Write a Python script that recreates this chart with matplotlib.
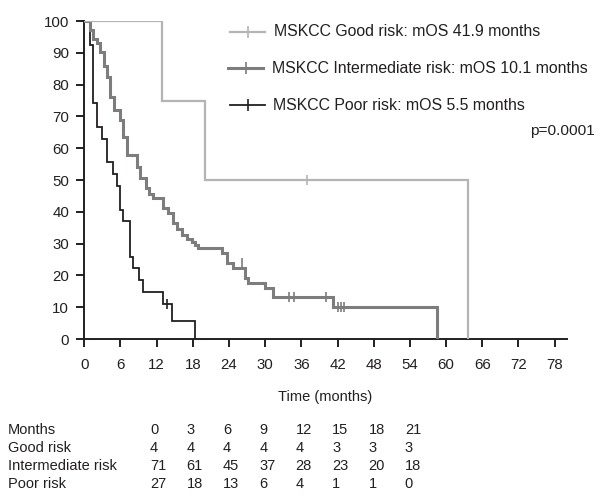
import numpy as np
import matplotlib
matplotlib.use("Agg")
import matplotlib.pyplot as plt
from matplotlib.lines import Line2D

plt.rcParams['font.family'] = ['Liberation Sans', 'DejaVu Sans']

# Kaplan-Meier steps: time of each drop (months) and survival (%) after it
good_t = [0, 12.9, 20.0, 63.7]
good_s = [100, 75, 50, 0]
good_cens_t = [37.0]
good_cens_s = [50]

inter_t = [0, 1.0, 1.5, 2.1, 2.6, 3.2, 3.7, 4.3, 5.0, 5.9, 6.5, 7.0, 8.7, 9.2,
           10.3, 10.8, 11.4, 13.1, 13.9, 14.7, 15.4, 16.2, 17.0, 17.8, 18.4,
           18.9, 22.8, 23.6, 24.7, 26.7, 27.2, 30.0, 31.3, 32.2, 41.2, 58.5]
inter_s = [100, 97.2, 94.4, 93.0, 90.1, 85.9, 82.4, 76.2, 72.0, 68.9, 63.4,
           58.0, 54.0, 50.5, 47.4, 45.5, 44.3, 41.1, 39.5, 36.4, 34.5, 32.7,
           31.6, 30.6, 29.6, 28.5, 26.9, 23.8, 22.2, 19.1, 17.5, 15.9, 13.3,
           13.3, 10.2, 0]
inter_cens_t = [26.1, 34.0, 34.8, 40.0, 42.0, 42.5, 43.0]
inter_cens_s = [23.8, 13.3, 13.3, 13.3, 10.2, 10.2, 10.2]

poor_t = [0, 1.0, 1.5, 2.1, 2.9, 3.7, 4.8, 5.4, 5.9, 6.5, 7.6, 8.1, 9.0, 9.8,
          13.1, 14.5, 18.4]
poor_s = [100, 92.6, 74.1, 66.7, 63.0, 55.6, 51.9, 48.1, 40.7, 37.0, 25.9,
          22.2, 18.5, 14.8, 11.1, 5.6, 0]
poor_cens_t = [13.7]
poor_cens_s = [11.1]

labels = ["MSKCC Good risk: mOS 41.9 months",
          "MSKCC Intermediate risk: mOS 10.1 months",
          "MSKCC Poor risk: mOS 5.5 months"]

table_months = [0, 3, 6, 9, 12, 15, 18, 21]
table_rows = ["Good risk", "Intermediate risk", "Poor risk"]
at_risk = [[4, 4, 4, 4, 4, 3, 3, 3],
           [71, 61, 45, 37, 28, 23, 20, 18],
           [27, 18, 13, 6, 4, 1, 1, 0]]

colors = ["#b4b4b4", "#7d7d7d", "#231f20"]
widths = [1.6, 2.2, 1.3]
ink = '#231f20'

W, H = 598, 498
fig = plt.figure(figsize=(W / 100, H / 100), dpi=100)
ax = fig.add_axes([84.3 / W, 1 - 339 / H, (566.7 - 84.3) / W, (339 - 21) / H])

groups = [(good_t, good_s, good_cens_t, good_cens_s),
          (inter_t, inter_s, inter_cens_t, inter_cens_s),
          (poor_t, poor_s, poor_cens_t, poor_cens_s)]

for i, (t, s, ct, cs) in enumerate(groups):
    ax.step(t, s, where='post', color=colors[i], lw=widths[i], zorder=3 - i * 0.1,
            solid_joinstyle='miter')
    ax.plot(ct, cs, ls='none', marker='|', ms=7, mew=1.2, color=colors[i])

ax.set_xlim(0, 80)
ax.set_ylim(0, 100)
ax.set_xticks(np.arange(0, 79, 6))
ax.set_yticks(np.arange(0, 101, 10))
for sp in ['top', 'right']:
    ax.spines[sp].set_visible(False)
for sp in ['left', 'bottom']:
    ax.spines[sp].set_linewidth(1.4)
    ax.spines[sp].set_color(ink)
ax.tick_params(direction='out', length=6, width=1.4, color=ink,
               labelsize=10.8, labelcolor=ink)
ax.tick_params(axis='x', pad=8)
ax.tick_params(axis='y', pad=5)

# legend drawn by hand: each entry sits slightly differently in the original
leg_y = [31.7, 68.5, 105]
leg_line = [(230, 265), (228, 263), (230, 265)]
leg_text_x = [274, 271.5, 273]
for i in range(3):
    y = 1 - leg_y[i] / H
    x0, x1 = leg_line[i]
    fig.add_artist(Line2D([x0 / W, x1 / W], [y, y], color=colors[i], lw=widths[i]))
    fig.add_artist(Line2D([(x0 + x1) / 2 / W], [y], ls='none', marker='|', ms=8,
                          mew=1.2, color=colors[i]))
    fig.text(leg_text_x[i] / W, y, labels[i], ha='left', va='center',
             fontsize=11.4, color=ink)

fig.text(595 / W, 1 - 131.5 / H, "p=0.0001", ha='right', va='center',
         fontsize=11.1, color=ink)

fig.text(325 / W, 1 - 397 / H, "Time (months)", ha='center', va='center',
         fontsize=10.5, color=ink)

row_y = [430, 448, 466, 484]
col_x = [150 + 36.4 * k for k in range(len(table_months))]
fig.text(8 / W, 1 - row_y[0] / H, "Months", ha='left', va='center',
         fontsize=10.5, color=ink)
for k, m in enumerate(table_months):
    fig.text(col_x[k] / W, 1 - row_y[0] / H, str(m), ha='left', va='center',
             fontsize=10.5, color=ink)
for r, name in enumerate(table_rows):
    y = 1 - row_y[r + 1] / H
    fig.text(8 / W, y, name, ha='left', va='center', fontsize=10.5, color=ink)
    for k, v in enumerate(at_risk[r]):
        fig.text(col_x[k] / W, y, str(v), ha='left', va='center',
                 fontsize=10.5, color=ink)

fig.savefig("out.png", dpi=100)
